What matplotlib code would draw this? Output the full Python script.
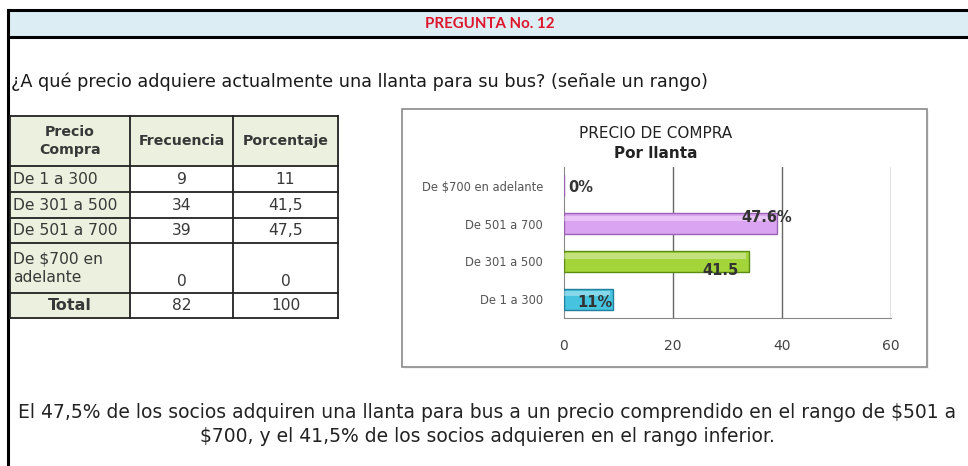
import matplotlib
matplotlib.use("Agg")
import matplotlib.pyplot as plt
from matplotlib.patches import Rectangle

# data
categories = ["De 1 a 300", "De 301 a 500", "De 501 a 700", "De $700 en adelante"]
table_rows = ["De 1 a 300", "De 301 a 500", "De 501 a 700", "De $700 en\nadelante"]
frecuencia = [9, 34, 39, 0]
porcentaje = ["11", "41,5", "47,5", "0"]
total_frec = "82"
total_pct = "100"
bar_labels = ["11%", "41.5", "47.6%", "0%"]
bar_colors = ["#46c3df", "#a3d43a", "#dba4f2", "#dba4f2"]
edge_colors = ["#1f7f9c", "#5d8c12", "#9a62b3", "#9a62b3"]
xticks = [0, 20, 40, 60]

W, H = 968, 466
fig = plt.figure(figsize=(W / 100, H / 100), dpi=100)
fig.patch.set_facecolor("white")

bg = fig.add_axes([0, 0, 1, 1])
bg.set_xlim(0, W)
bg.set_ylim(H, 0)
bg.axis("off")

# header band + frame
bg.add_patch(Rectangle((8, 10), W, 27, facecolor="#dcedf3", edgecolor="none"))
bg.plot([8, W], [10, 10], color="black", lw=2.2)
bg.plot([8, W], [37, 37], color="black", lw=2.2)
bg.plot([8, 8], [10, H], color="black", lw=2.2)
bg.text(490, 24, "PREGUNTA No. 12", color="#e0142c", fontsize=10.8, fontweight="bold",
        family="Lato", ha="center", va="center")

bg.text(11, 82, "¿A qué precio adquiere actualmente una llanta para su bus? (señale un rango)",
        fontsize=12.7, family="DejaVu Sans", color="#1a1a1a", va="center")

# table
cols = [10, 130, 233, 338]
rows = [116, 166, 192, 218, 243, 293, 318]
bg.add_patch(Rectangle((cols[0], rows[0]), cols[1] - cols[0], rows[-1] - rows[0],
                       facecolor="#ebf1de", edgecolor="none"))
bg.add_patch(Rectangle((cols[1], rows[0]), cols[3] - cols[1], rows[1] - rows[0],
                       facecolor="#ebf1de", edgecolor="none"))
for y in rows:
    bg.plot([cols[0], cols[-1]], [y, y], color="#222222", lw=1.3)
for x in cols:
    bg.plot([x, x], [rows[0], rows[-1]], color="#222222", lw=1.3)

tfont = dict(family="DejaVu Sans", fontsize=11.2, color="#383838")
hfont = dict(family="DejaVu Sans", fontsize=10.2, color="#383838", fontweight="bold")
bg.text((cols[0] + cols[1]) / 2, (rows[0] + rows[1]) / 2, "Precio\nCompra", ha="center",
        va="center", linespacing=1.3, **hfont)
bg.text((cols[1] + cols[2]) / 2, (rows[0] + rows[1]) / 2, "Frecuencia", ha="center",
        va="center", **hfont)
bg.text((cols[2] + cols[3]) / 2, (rows[0] + rows[1]) / 2, "Porcentaje", ha="center",
        va="center", **hfont)
for i, name in enumerate(table_rows):
    y0, y1 = rows[i + 1], rows[i + 2]
    bg.text(cols[0] + 3, (y0 + y1) / 2, name, ha="left", va="center", linespacing=1.3, **tfont)
    yv = (y0 + y1) / 2 if "\n" not in name else y1 - 12
    bg.text((cols[1] + cols[2]) / 2, yv, str(frecuencia[i]), ha="center", va="center", **tfont)
    bg.text((cols[2] + cols[3]) / 2, yv, porcentaje[i], ha="center", va="center", **tfont)
yt = (rows[5] + rows[6]) / 2
bg.text((cols[0] + cols[1]) / 2, yt, "Total", ha="center", va="center", **dict(hfont, fontsize=11.5))
bg.text((cols[1] + cols[2]) / 2, yt, total_frec, ha="center", va="center", **tfont)
bg.text((cols[2] + cols[3]) / 2, yt, total_pct, ha="center", va="center", **tfont)

# chart box
bg.add_patch(Rectangle((404, 111), 525, 258, facecolor="#f2f2f2", edgecolor="none"))
bg.add_patch(Rectangle((402, 109), 525, 258, facecolor="white", edgecolor="#8a8a8a", lw=1.2))
bg.text(656, 133, "PRECIO DE COMPRA", ha="center", va="center", fontsize=11,
        family="DejaVu Sans", color="#222222")
bg.text(656, 153, "Por llanta", ha="center", va="center", fontsize=11,
        family="DejaVu Sans", fontweight="bold", color="#222222")

# bottom note
note_font = dict(family="DejaVu Sans", fontsize=13.5, color="#222222", ha="center", va="center")
bg.text(487, 412, "El 47,5% de los socios adquiren una llanta para bus a un precio comprendido "
        "en el rango de $501 a", **note_font)
bg.text(487, 437, "$700, y el 41,5% de los socios adquieren en el rango inferior.", **note_font)

# bar chart
x0, x1, yt_, yb_ = 564, 891, 167, 318
ax = fig.add_axes([x0 / W, 1 - yb_ / H, (x1 - x0) / W, (yb_ - yt_) / H])
ax.set_xlim(0, 60)
ax.set_ylim(-0.5, 3.5)
ax.set_facecolor("none")
ypos = list(range(len(categories)))
ax.barh(ypos, frecuencia, height=0.56, color=bar_colors, edgecolor=edge_colors, lw=1.0, zorder=3)
# glossy highlight strip
ax.barh([y + 0.14 for y in ypos], [max(v - 0.6, 0) for v in frecuencia], height=0.14,
        color="white", alpha=0.35, lw=0, zorder=4)

for x in xticks[1:]:
    ax.axvline(x, color="#666666", lw=1.0, zorder=1)
for s in ["top", "right"]:
    ax.spines[s].set_visible(False)
ax.spines["left"].set_color("#888888")
ax.spines["bottom"].set_color("#888888")

ax.set_yticks(ypos)
ax.set_yticklabels(categories, fontsize=8.3, color="#555555", family="DejaVu Sans")
ax.set_xticks(xticks)
ax.set_xticklabels([str(t) for t in xticks], fontsize=10, color="#444444", family="DejaVu Sans")
ax.tick_params(length=0)
ax.tick_params(axis="x", pad=15)
ax.tick_params(axis="y", pad=15)

lab_font = dict(fontsize=10.5, fontweight="bold", color="#333333", family="DejaVu Sans",
                ha="center", va="center", zorder=5)
ax.text(5.7, 0 - 0.1, bar_labels[0], **lab_font)
ax.text(28.8, 1 - 0.24, bar_labels[1], **lab_font)
ax.text(37.2, 2 + 0.16, bar_labels[2], **lab_font)
ax.text(3.1, 3 - 0.05, bar_labels[3], **lab_font)

fig.savefig("out.png", dpi=100)
